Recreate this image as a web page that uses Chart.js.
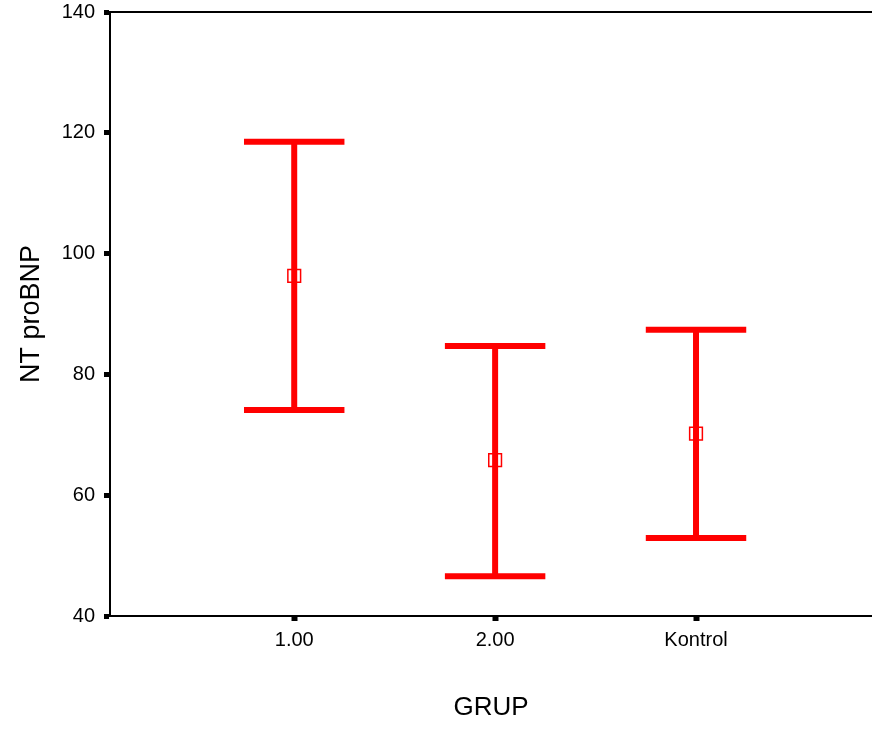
<!DOCTYPE html>
<html>
<head>
<meta charset="utf-8">
<script src="https://cdn.jsdelivr.net/npm/chart.js@4.4.0/dist/chart.umd.min.js"></script>
<style>
    html, body { margin: 0; padding: 0; background: #fff; }
    #chart-container { width: 872px; height: 729px; }
</style>
</head>
<body>
<div id="chart-container"><canvas id="errorbar-chart"></canvas></div>
<script>
// groups on the x axis
const group_labels = ['1.00', '2.00', 'Kontrol'];
const group_positions = [1, 2, 3];

// NT proBNP mean and interval ends per group
const mean_values = [96.3, 65.8, 70.2];
const upper_values = [118.5, 84.7, 87.4];
const lower_values = [74.1, 46.6, 52.9];

const y_ticks = [40, 60, 80, 100, 120, 140];

const cap_half = 0.25;

Chart.defaults.font.family = "'Liberation Sans', Arial, sans-serif";
Chart.defaults.color = '#000';

// whiskers + caps, drawn under the mean markers
const error_bar_plugin = {
    id: 'errorBars',
    beforeDatasetsDraw(chart) {
        const { ctx, scales: { x, y } } = chart;
        ctx.save();
        ctx.strokeStyle = '#ff0000';
        ctx.lineWidth = 6;
        group_positions.forEach((pos, i) => {
            const cx = x.getPixelForValue(pos);
            const x1 = x.getPixelForValue(pos - cap_half);
            const x2 = x.getPixelForValue(pos + cap_half);
            const top = y.getPixelForValue(upper_values[i]);
            const bottom = y.getPixelForValue(lower_values[i]);

            ctx.beginPath();
            ctx.moveTo(cx, top);
            ctx.lineTo(cx, bottom);
            ctx.stroke();

            ctx.beginPath();
            ctx.moveTo(x1, top);
            ctx.lineTo(x2, top);
            ctx.moveTo(x1, bottom);
            ctx.lineTo(x2, bottom);
            ctx.stroke();
        });
        ctx.restore();
    }
};

// top frame line
const frame_plugin = {
    id: 'frameTop',
    afterDraw(chart) {
        const { ctx, chartArea } = chart;
        ctx.save();
        ctx.strokeStyle = '#000';
        ctx.lineWidth = 2;
        ctx.beginPath();
        ctx.moveTo(chartArea.left, chartArea.top);
        ctx.lineTo(chartArea.right, chartArea.top);
        ctx.stroke();
        ctx.restore();
    }
};

const canvas = document.getElementById('errorbar-chart');

new Chart(canvas, {
    type: 'scatter',
    data: {
        datasets: [{
            data: group_positions.map((pos, i) => ({ x: pos, y: mean_values[i] })),
            pointStyle: 'rect',
            pointRadius: 9,
            pointHoverRadius: 9,
            borderColor: '#ff0000',
            backgroundColor: 'rgba(0,0,0,0)',
            borderWidth: 1.5,
            showLine: false
        }]
    },
    options: {
        responsive: true,
        maintainAspectRatio: false,
        animation: false,
        layout: {
            autoPadding: false,
            padding: { top: 12, right: 0, left: 0, bottom: 0 }
        },
        plugins: {
            legend: { display: false },
            tooltip: { enabled: false }
        },
        scales: {
            x: {
                type: 'linear',
                min: 0.083,
                max: 3.876,
                afterBuildTicks: (scale) => {
                    scale.ticks = group_positions.map(v => ({ value: v }));
                },
                afterFit: (scale) => {
                    scale.height = 113;
                    scale.paddingLeft = 0;
                    scale.paddingRight = 0;
                },
                ticks: {
                    callback: (value) => group_labels[group_positions.indexOf(value)],
                    font: { size: 20 },
                    color: '#000',
                    padding: 7,
                    maxRotation: 0,
                    autoSkip: false
                },
                grid: {
                    drawOnChartArea: false,
                    drawTicks: true,
                    tickLength: 5,
                    tickWidth: 6,
                    tickColor: '#000'
                },
                border: { display: true, color: '#000', width: 2 },
                title: {
                    display: true,
                    text: 'GRUP',
                    font: { size: 26 },
                    color: '#000',
                    padding: { top: 0, bottom: 6 }
                }
            },
            y: {
                min: 40,
                max: 140,
                afterBuildTicks: (scale) => {
                    scale.ticks = y_ticks.map(v => ({ value: v }));
                },
                afterFit: (scale) => {
                    scale.width = 110;
                    scale.paddingTop = 0;
                    scale.paddingBottom = 0;
                },
                ticks: {
                    font: { size: 20 },
                    color: '#000',
                    padding: 9
                },
                grid: {
                    drawOnChartArea: false,
                    drawTicks: true,
                    tickLength: 6,
                    tickWidth: 5,
                    tickColor: '#000'
                },
                border: { display: true, color: '#000', width: 2 },
                title: {
                    display: true,
                    text: 'NT proBNP',
                    font: { size: 27 },
                    color: '#000',
                    padding: { top: 15, bottom: 0 }
                }
            }
        }
    },
    plugins: [error_bar_plugin, frame_plugin]
});
</script>
</body>
</html>
